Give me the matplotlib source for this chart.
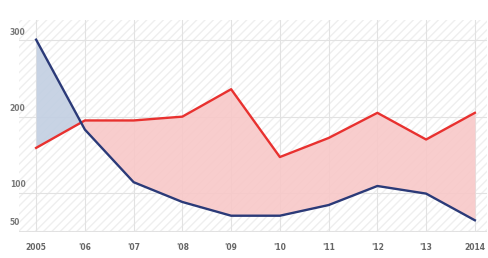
import matplotlib
matplotlib.use("Agg")
import numpy as np
import matplotlib.pyplot as plt
from matplotlib.patches import Rectangle

years = np.arange(2005, 2015)
tick_labels = ["2005", "'06", "'07", "'08", "'09", "'10", "'11", "'12", "'13", "2014"]
red_vals = np.array([159, 195, 195, 200, 236, 147, 172, 205, 170, 205])
blue_vals = np.array([301, 183, 114, 88, 70, 70, 84, 109, 99, 64])
y_ticks = [50, 100, 200, 300]

RED = "#e8312f"
BLUE = "#2b3a78"

fig = plt.figure(figsize=(4.89, 2.58), dpi=100)
ax = fig.add_axes([0.039, 0.101, 0.957, 0.822])
ax.set_xlim(2005 - 0.35, 2014 + 0.25)
ax.set_ylim(48.7, 327)

# faint diagonal hatch background
ax.add_patch(Rectangle((0, 0), 1, 1, transform=ax.transAxes, facecolor="white",
                       edgecolor="#efefef", hatch="////", lw=0, zorder=0))

for s in ax.spines.values():
    s.set_visible(False)
ax.set_xticks(years)
ax.set_xticklabels(tick_labels, fontsize=5.5, color="#666666", fontweight="bold")
ax.tick_params(axis="x", length=0, pad=8)
ax.set_yticks(y_ticks)
ax.set_yticklabels([])
ax.tick_params(axis="y", length=0)
ax.grid(True, color="#e2e2e2", lw=0.8, zorder=1)
for v in y_ticks:
    ax.text(-0.02, v + 5, str(v), transform=ax.get_yaxis_transform(),
            fontsize=5.5, color="#777777", fontweight="bold", ha="left", va="bottom")
ax.axhline(48.9, color="#d8c8d8", lw=0.8, ls=(0, (1, 2)), zorder=2)

ax.fill_between(years, red_vals, blue_vals, where=blue_vals >= red_vals,
                interpolate=True, color="#c2cfe2", alpha=0.9, lw=0, zorder=2)
ax.fill_between(years, red_vals, blue_vals, where=red_vals >= blue_vals,
                interpolate=True, color="#f8c8c8", alpha=0.9, lw=0, zorder=2)

ax.plot(years, red_vals, color=RED, lw=1.7, zorder=3)
ax.plot(years, blue_vals, color=BLUE, lw=1.7, zorder=3)

fig.savefig("out.png", dpi=100)
